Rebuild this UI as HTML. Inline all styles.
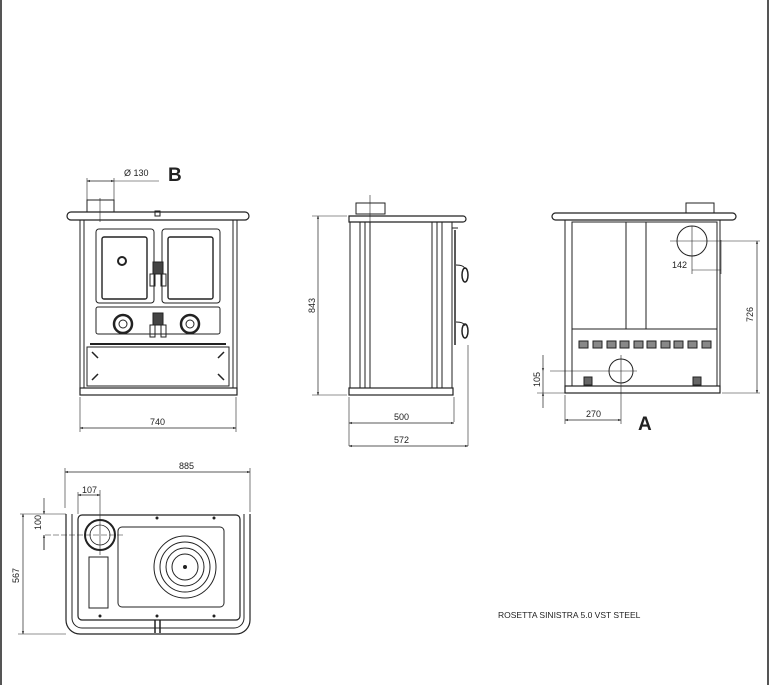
<!DOCTYPE html>
<html><head><style>
html,body{margin:0;padding:0;background:#fff;}
svg{display:block;}
text{font-family:"Liberation Sans",sans-serif;fill:#222;}
</style></head><body>
<svg width="771" height="685" viewBox="0 0 771 685" xmlns="http://www.w3.org/2000/svg">
<defs>
<marker id="a" viewBox="0 0 10 10" refX="10" refY="5" markerWidth="6" markerHeight="4" orient="auto-start-reverse"><path d="M0,1 L10,5 L0,9 z" fill="#222"/></marker>
</defs>
<line x1="1" y1="0" x2="1" y2="685" stroke="#555" stroke-width="2"/>
<line x1="768" y1="0" x2="768" y2="685" stroke="#555" stroke-width="2"/>

<g stroke="#222" fill="none" stroke-width="1">
<!-- FRONT VIEW -->
<rect x="87" y="200" width="27" height="12"/>
<line x1="100" y1="198" x2="100" y2="222" stroke-width="0.6"/>
<line x1="87" y1="178" x2="87" y2="200" stroke-width="0.6"/>
<line x1="114" y1="178" x2="114" y2="200" stroke-width="0.6"/>
<line x1="87" y1="181" x2="114" y2="181" stroke-width="0.7" marker-start="url(#a)" marker-end="url(#a)"/>
<line x1="114" y1="181" x2="159" y2="181" stroke-width="0.6"/>
<rect x="67" y="212" width="182" height="8" rx="4" stroke-width="1.2"/>
<rect x="155" y="211" width="5" height="5"/>
<rect x="80" y="220" width="157" height="168"/>
<line x1="84" y1="220" x2="84" y2="388"/><line x1="233" y1="220" x2="233" y2="388"/>
<rect x="96" y="229" width="58" height="74" rx="3"/>
<rect x="102" y="237" width="45" height="62" rx="2" stroke-width="1.4"/>
<circle cx="122" cy="261" r="4" stroke-width="2"/>
<rect x="162" y="229" width="58" height="74" rx="3"/>
<rect x="168" y="237" width="45" height="62" rx="2" stroke-width="1.4"/>
<rect x="96" y="307" width="124" height="27" rx="2"/>
<circle cx="123" cy="324" r="9" stroke-width="2.5"/><circle cx="123" cy="324" r="4"/>
<circle cx="190" cy="324" r="9" stroke-width="2.5"/><circle cx="190" cy="324" r="4"/>
<rect x="153" y="262" width="10" height="12" fill="#444"/>
<rect x="153" y="313" width="10" height="12" fill="#444"/>
<rect x="150" y="274" width="5" height="12"/><rect x="161" y="274" width="5" height="12"/>
<rect x="150" y="325" width="5" height="12"/><rect x="161" y="325" width="5" height="12"/>
<line x1="90" y1="344" x2="226" y2="344" stroke-width="2"/>
<rect x="87" y="347" width="142" height="39"/>
<path d="M92,352 l6,6 M92,380 l6,-6 M224,352 l-6,6 M224,380 l-6,-6" stroke-width="1.5"/>
<rect x="80" y="388" width="157" height="7" stroke-width="1.2"/>
<line x1="80" y1="397" x2="80" y2="432" stroke-width="0.6"/>
<line x1="236" y1="397" x2="236" y2="432" stroke-width="0.6"/>
<line x1="80" y1="428" x2="236" y2="428" stroke-width="0.7" marker-start="url(#a)" marker-end="url(#a)"/>

<!-- SIDE VIEW -->
<rect x="356" y="203" width="29" height="11"/>
<line x1="370" y1="195" x2="370" y2="222" stroke-width="0.6"/>
<path d="M349,216 H463 a3,3 0 0 1 0,6 H349 z" stroke-width="1.2"/>
<rect x="350" y="222" width="102" height="166"/>
<line x1="360" y1="222" x2="360" y2="388"/><line x1="365" y1="222" x2="365" y2="388"/><line x1="370" y1="222" x2="370" y2="388"/>
<line x1="432" y1="222" x2="432" y2="388"/><line x1="437" y1="222" x2="437" y2="388"/><line x1="442" y1="222" x2="442" y2="388"/>
<line x1="452" y1="228" x2="458" y2="228"/>
<line x1="455" y1="230" x2="455" y2="345" stroke-width="1.5"/>
<ellipse cx="465" cy="275" rx="3" ry="7" stroke-width="1.5"/>
<ellipse cx="465" cy="331" rx="3" ry="7" stroke-width="1.5"/>
<path d="M456,265 q8,0 9,4 M456,322 q8,0 9,4"/>
<rect x="349" y="388" width="104" height="7" stroke-width="1.2"/>
<line x1="312" y1="216" x2="347" y2="216" stroke-width="0.6"/>
<line x1="312" y1="395" x2="347" y2="395" stroke-width="0.6"/>
<line x1="318" y1="216" x2="318" y2="395" stroke-width="0.7" marker-start="url(#a)" marker-end="url(#a)"/>
<line x1="349" y1="397" x2="349" y2="446" stroke-width="0.6"/>
<line x1="454" y1="397" x2="454" y2="422" stroke-width="0.6"/>
<line x1="468" y1="345" x2="468" y2="446" stroke-width="0.6"/>
<line x1="349" y1="423" x2="454" y2="423" stroke-width="0.7" marker-start="url(#a)" marker-end="url(#a)"/>
<line x1="349" y1="446" x2="468" y2="446" stroke-width="0.7" marker-start="url(#a)" marker-end="url(#a)"/>

<!-- BACK VIEW -->
<rect x="686" y="203" width="28" height="10"/>
<rect x="552" y="213" width="184" height="7" rx="3.5" stroke-width="1.2"/>
<rect x="565" y="220" width="155" height="173"/>
<rect x="572" y="222" width="145" height="107"/>
<line x1="626" y1="222" x2="626" y2="329"/><line x1="646" y1="222" x2="646" y2="329"/>
<line x1="572" y1="329" x2="572" y2="386"/><line x1="717" y1="329" x2="717" y2="386"/>
<circle cx="692" cy="241" r="15"/>
<line x1="670" y1="241" x2="760" y2="241" stroke-width="0.6"/>
<line x1="692" y1="226" x2="692" y2="274" stroke-width="0.6"/>
<line x1="721" y1="240" x2="721" y2="274" stroke-width="0.6"/>
<line x1="692" y1="270" x2="721" y2="270" stroke-width="0.6"/>
<g stroke-width="1">
<rect x="579" y="341" width="9" height="7" fill="#888"/><rect x="593" y="341" width="9" height="7" fill="#888"/><rect x="607" y="341" width="9" height="7" fill="#888"/><rect x="620" y="341" width="9" height="7" fill="#888"/><rect x="634" y="341" width="9" height="7" fill="#888"/><rect x="647" y="341" width="9" height="7" fill="#888"/><rect x="661" y="341" width="9" height="7" fill="#888"/><rect x="674" y="341" width="9" height="7" fill="#888"/><rect x="688" y="341" width="9" height="7" fill="#888"/><rect x="702" y="341" width="9" height="7" fill="#888"/>
</g>
<circle cx="621" cy="371" r="12"/>
<line x1="550" y1="371" x2="637" y2="371" stroke-width="0.6"/>
<line x1="621" y1="355" x2="621" y2="424" stroke-width="0.6"/>
<rect x="584" y="377" width="8" height="8" fill="#666"/><rect x="693" y="377" width="8" height="8" fill="#666"/>
<rect x="565" y="386" width="155" height="7" stroke-width="1.2"/>
<line x1="537" y1="393" x2="565" y2="393" stroke-width="0.6"/>
<line x1="722" y1="393" x2="760" y2="393" stroke-width="0.6"/>
<line x1="757" y1="241" x2="757" y2="393" stroke-width="0.7" marker-start="url(#a)" marker-end="url(#a)"/>
<line x1="543" y1="355" x2="543" y2="371" stroke-width="0.7" marker-end="url(#a)"/>
<line x1="543" y1="371" x2="543" y2="393" stroke-width="0.7"/>
<line x1="543" y1="408" x2="543" y2="393" stroke-width="0.7" marker-end="url(#a)"/>
<line x1="565" y1="395" x2="565" y2="424" stroke-width="0.6"/>
<line x1="565" y1="420" x2="621" y2="420" stroke-width="0.7" marker-start="url(#a)" marker-end="url(#a)"/>

<!-- TOP VIEW -->
<path d="M66,514 V620 a14,14 0 0 0 14,14 H236 a14,14 0 0 0 14,-14 V514" stroke-width="1.2"/>
<path d="M72,514 V618 a10,10 0 0 0 10,10 H234 a10,10 0 0 0 10,-10 V514"/>
<rect x="78" y="515" width="162" height="105" rx="4" stroke-width="1.2"/>
<circle cx="100" cy="535" r="15" stroke-width="2"/>
<circle cx="100" cy="535" r="10" stroke-width="0.8"/>
<line x1="45" y1="535" x2="125" y2="535" stroke-width="0.6" stroke-dasharray="6,2"/>
<line x1="100" y1="490" x2="100" y2="555" stroke-width="0.6"/>
<rect x="89" y="557" width="19" height="51"/>
<rect x="118" y="527" width="106" height="80" rx="4"/>
<circle cx="185" cy="567" r="31"/><circle cx="185" cy="567" r="25"/><circle cx="185" cy="567" r="19"/><circle cx="185" cy="567" r="13"/>
<circle cx="185" cy="567" r="1.5" fill="#222"/>
<g fill="#222" stroke="none"><circle cx="157" cy="518" r="1.5"/><circle cx="214" cy="518" r="1.5"/><circle cx="100" cy="616" r="1.5"/><circle cx="157" cy="616" r="1.5"/><circle cx="214" cy="616" r="1.5"/></g>
<line x1="155" y1="620" x2="155" y2="633" stroke-width="1.5"/><line x1="160" y1="620" x2="160" y2="633" stroke-width="1.5"/>
<line x1="65" y1="468" x2="65" y2="508" stroke-width="0.6"/>
<line x1="250" y1="468" x2="250" y2="512" stroke-width="0.6"/>
<line x1="65" y1="472" x2="250" y2="472" stroke-width="0.7" marker-start="url(#a)" marker-end="url(#a)"/>
<line x1="78" y1="492" x2="78" y2="514" stroke-width="0.6"/>
<line x1="78" y1="495" x2="100" y2="495" stroke-width="0.7" marker-start="url(#a)" marker-end="url(#a)"/>
<line x1="20" y1="514" x2="66" y2="514" stroke-width="0.6"/>
<line x1="18" y1="634" x2="66" y2="634" stroke-width="0.6"/>
<line x1="44" y1="498" x2="44" y2="514" stroke-width="0.7" marker-end="url(#a)"/>
<line x1="44" y1="535" x2="44" y2="550" stroke-width="0.7"/>
<line x1="44" y1="550" x2="44" y2="535" stroke-width="0.7" marker-end="url(#a)"/>
<line x1="23" y1="514" x2="23" y2="634" stroke-width="0.7" marker-start="url(#a)" marker-end="url(#a)"/>
</g>

<g font-size="9">
<text x="124" y="176">Ø 130</text>
<text x="150" y="425">740</text>
<text x="394" y="420">500</text>
<text x="394" y="443">572</text>
<text x="672" y="268">142</text>
<text x="586" y="417">270</text>
<text x="179" y="469">885</text>
<text x="82" y="493">107</text>
<text transform="translate(315,313) rotate(-90)">843</text>
<text transform="translate(753,322) rotate(-90)">726</text>
<text transform="translate(540,387) rotate(-90)">105</text>
<text transform="translate(41,530) rotate(-90)">100</text>
<text transform="translate(19,583) rotate(-90)">567</text>
<text x="498" y="618" font-size="8.5">ROSETTA SINISTRA 5.0 VST STEEL</text>
</g>
<text x="168" y="181" font-size="19" font-weight="bold">B</text>
<text x="638" y="430" font-size="19" font-weight="bold">A</text>
</svg>
</body></html>
